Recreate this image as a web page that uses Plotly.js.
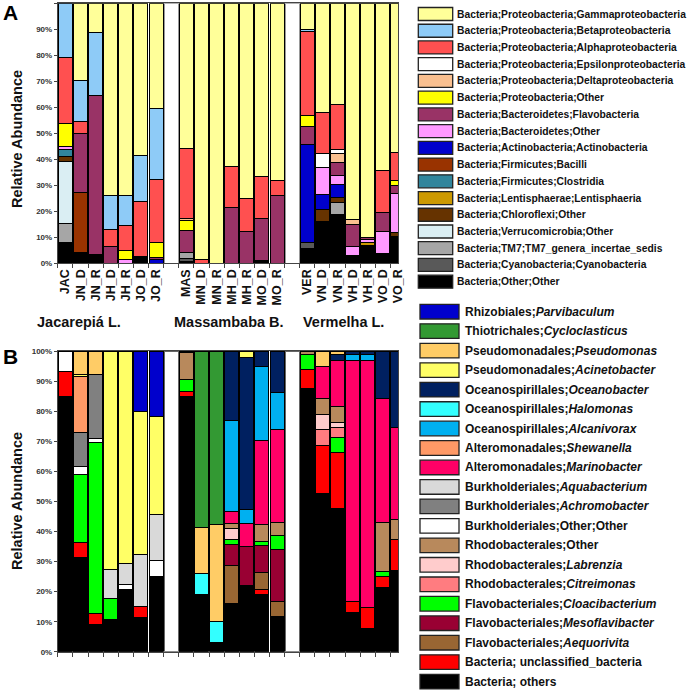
<!DOCTYPE html>
<html><head><meta charset="utf-8">
<script src="https://cdn.plot.ly/plotly-3.0.1.min.js"></script>
<style>html,body{margin:0;padding:0;background:#fff}#chart{width:691px;height:694px}</style>
</head><body><div id="chart"></div>
<script>
// ---------- samples ----------
const samples = ["JAC","JN_D","JN_R","JH_D","JH_R","JO_D","JO_R",
                 "MAS","MN_D","MN_R","MH_D","MH_R","MO_D","MO_R",
                 "VER","VN_D","VN_R","VH_D","VH_R","VO_D","VO_R"];
const groupLabels = ["Jacarepiá L.","Massambaba B.","Vermelha L."];
const gapHeight = 100;

// ---------- Panel A series (bottom -> top of stack) ----------
const aOther      = [8.1,4.2,3.2,0,0,2.8,0, 0.6,0,0,0,0,1.0,0, 5.8,16.0,18.6,2.9,6.8,3.6,10.2];
const aCyano      = [0,0,0,0,0,0,0, 1.3,0,0,0,0,0,0, 2.1,0,0,0,0,0,0];
const aTM7        = [7.3,0,0,0,0,0,0, 2.2,0,0,0,0,0,0, 0,0,4.9,0,0,0,0];
const aVerruco    = [23.7,0,0,0,0,0,0, 0,0,0,0,0,0,0, 0,0,0,0,0,0,0];
const aChloroflexi= [1.9,0,0,0,0,0,0, 0,0,0,0,0,0,0, 0,4.8,1.8,0,0,0,1.6];
const aLenti      = [0,0,0,0,0,0,0, 0,0,0,0,0,0,0, 0,0,0,0,1.3,0,0];
const aClostridia = [2.6,0,0,0,0,0,0, 0,0,0,0,0,0,0, 0,0,0,0,0,0,0];
const aBacilli    = [0,23.0,0,0,0,0,0, 0,0,0,0,0,0,0, 0,0,0,0,0,0,0];
const aActino     = [0,0,0,0,0,0,1.3, 0,0,0,0,0,0,0, 37.9,5.5,5.2,0,0,0,0];
const aBactOther  = [1.3,0,0,0,1.5,0,0, 0,0,0,0,0,0,0, 0,10.5,3.2,3.5,1.0,8.6,15.1];
const aFlavo      = [0,22.8,61.4,6.3,0,0,1.0, 8.5,0,0,21.3,12.3,16.1,26.2, 6.8,0,5.1,8.7,0.7,7.3,3.2];
const aProtOther  = [8.7,0,0,0,3.4,0,5.7, 3.8,0,0,0,0,0,0, 4.1,0,0,0,0,0,1.9];
const aDelta      = [0,0,0,0,0,0,0, 0.9,0,0,0,0,0,0, 0,0,3.5,1.6,0,0,0];
const aEpsilon    = [0,0,0,0,0,0,0, 0,0,0,0,0,0,0, 0,5.3,1.5,0,0,0,0];
const aAlpha      = [25.5,4.5,0,6.6,9.7,20.9,24.1, 26.9,1.3,0,16.1,12.6,16.1,5.8, 32.4,15.8,17.4,0,0,16.1,10.7];
const aBeta       = [20.9,16.0,24.1,13.0,11.3,17.6,27.3, 0,0,0,0,0,0,0, 0.9,0,0,0,0,0,0];
const aGamma      = [0,29.5,11.3,74.1,74.1,58.7,40.6, 55.8,98.7,100,62.6,75.1,66.8,68.0, 10.0,42.1,38.8,83.3,90.2,64.4,57.3];

const aNames = ["Bacteria;Other;Other","Bacteria;Cyanobacteria;Cyanobacteria","Bacteria;TM7;TM7_genera_incertae_sedis",
  "Bacteria;Verrucomicrobia;Other","Bacteria;Chloroflexi;Other","Bacteria;Lentisphaerae;Lentisphaeria",
  "Bacteria;Firmicutes;Clostridia","Bacteria;Firmicutes;Bacilli","Bacteria;Actinobacteria;Actinobacteria",
  "Bacteria;Bacteroidetes;Other","Bacteria;Bacteroidetes;Flavobacteria","Bacteria;Proteobacteria;Other",
  "Bacteria;Proteobacteria;Deltaproteobacteria","Bacteria;Proteobacteria;Epsilonproteobacteria",
  "Bacteria;Proteobacteria;Alphaproteobacteria","Bacteria;Proteobacteria;Betaproteobacteria",
  "Bacteria;Proteobacteria;Gammaproteobacteria"];
const aColors = ["#000000","#595959","#a6a6a6","#daeef3","#663300","#cc9900","#31859c","#993300","#0000cc",
  "#ff99ff","#993366","#ffff00","#fac090","#ffffff","#ff5050","#8ecbf7","#ffff99"];
const aValues = [aOther,aCyano,aTM7,aVerruco,aChloroflexi,aLenti,aClostridia,aBacilli,aActino,
  aBactOther,aFlavo,aProtOther,aDelta,aEpsilon,aAlpha,aBeta,aGamma];

// ---------- Panel B series (bottom -> top of stack) ----------
const bOthers   = [84.8,31.3,9.2,10.8,20.8,11.4,25.0, 84.8,18.9,3.0,15.9,22.2,18.9,11.9, 87.6,52.5,47.5,13.0,7.8,21.3,27.0];
const bUnclass  = [8.3,5.1,3.6,0,0,3.6,0, 1.7,0,0,0,0,1.9,0, 6.1,16.0,18.8,3.7,7.0,3.7,10.2];
const bAequo    = [0,0,0,0,0,0,0, 0,0,0,12.7,0,5.6,4.8, 0,0,0,0,0,0,0];
const bMeso     = [0,0,0,0,0,0,0, 0,0,0,7.1,12.8,8.8,17.2, 0,0,0,0,0,0,0];
const bCloaci   = [0,22.7,56.7,7.0,0,0,0, 3.9,0,0,1.7,0,1.6,4.6, 5.0,0,5.0,0,0,1.6,0];
const bCitrei   = [0,0,0,0,0,0,0, 0,0,0,0,0,0,0, 0,5.5,3.3,0,0,0,0];
const bLabrenzia= [0,0,0,0,0,0,0, 0,0,0,3.6,0,0,0, 0,5.0,1.6,0,0,0,0];
const bRhodoOth = [0,0,0,0,0,0,0, 9.1,0,0,1.7,0,5.4,4.4, 1.3,5.2,5.3,0,0,16.3,6.8];
const bBurkOth  = [6.9,2.4,1.5,0,1.5,0,5.5, 0,0,0,0,0,0,0, 0,0,0,0,0,0,0];
const bAchromo  = [0,11.4,21.2,0,0,0,0, 0,0,0,0,0,0,0, 0,0,0,0,0,0,0];
const bAqua     = [0,0,0,9.6,7.1,17.5,15.2, 0,0,0,0,0,0,0, 0,0,0,0,0,0,0];
const bMarino   = [0,0,0,0,0,0,0, 0.5,0,0,3.9,7.7,28.2,31.1, 0,10.8,15.3,80.3,82.2,41.3,30.6];
const bShewan   = [0,18.6,0,0,0,0,0, 0,0,0,0,0,0,0, 0,0,0,0,0,0,0];
const bAlcani   = [0,0,0,0,0,0,0, 0,0,0,30.2,4.7,24.4,12.2, 0,0,0,1.7,1.7,0,0];
const bHalo     = [0,0,0,0,0,0,0, 0,7.0,7.0,0,0,0,0, 0,0,0,0,0,0,0];
const bOceano   = [0,0,0,0,0,0,0, 0,0,0,23.2,50.5,5.2,13.8, 0,0,1.9,1.3,1.3,15.8,25.4];
const bAcinet   = [0,0.8,0,72.6,70.6,47.3,32.5, 0,0,0,0,2.1,0,0, 0,0,0,0,0,0,0];
const bPseudo   = [0,7.7,7.8,0,0,0,0, 0,15.5,32.4,0,0,0,0, 0,5.0,1.3,0,0,0,0];
const bCyclo    = [0,0,0,0,0,0,0, 0,58.6,57.6,0,0,0,0, 0,0,0,0,0,0,0];
const bParvi    = [0,0,0,0,0,20.2,21.8, 0,0,0,0,0,0,0, 0,0,0,0,0,0,0];

const bNames = ["Bacteria; others","Bacteria; unclassified_bacteria","Flavobacteriales;<i>Aequorivita</i>",
  "Flavobacteriales;<i>Mesoflavibacter</i>","Flavobacteriales;<i>Cloacibacterium</i>","Rhodobacterales;<i>Citreimonas</i>",
  "Rhodobacterales;<i>Labrenzia</i>","Rhodobacterales;Other","Burkholderiales;Other;Other",
  "Burkholderiales;<i>Achromobacter</i>","Burkholderiales;<i>Aquabacterium</i>","Alteromonadales;<i>Marinobacter</i>",
  "Alteromonadales;<i>Shewanella</i>","Oceanospirillales;<i>Alcanivorax</i>","Oceanospirillales;<i>Halomonas</i>",
  "Oceanospirillales;<i>Oceanobacter</i>","Pseudomonadales;<i>Acinetobacter</i>","Pseudomonadales;<i>Pseudomonas</i>",
  "Thiotrichales;<i>Cycloclasticus</i>","Rhizobiales;<i>Parvibaculum</i>"];
const bColors = ["#000000","#ff0000","#996633","#990033","#00ff00","#ff7c80","#ffcccc","#b8895c","#ffffff",
  "#808080","#d9d9d9","#ff0066","#ff9966","#00b0f0","#33ffff","#002060","#ffff66","#ffcc66","#339933","#0000cc"];
const bValues = [bOthers,bUnclass,bAequo,bMeso,bCloaci,bCitrei,bLabrenzia,bRhodoOth,bBurkOth,bAchromo,bAqua,
  bMarino,bShewan,bAlcani,bHalo,bOceano,bAcinet,bPseudo,bCyclo,bParvi];

// ---------- build categories with blank separator slots ----------
const gapAfter = [6, 13];
const cats = [];
samples.forEach((s,i)=>{ cats.push(s); if(i===6) cats.push(" "); if(i===13) cats.push("  "); });
function expand(vals){
  const out=[];
  vals.forEach((v,i)=>{ out.push(v===0?null:v); if(gapAfter.includes(i)) out.push(null); });
  return out;
}
const gapVals = cats.map(c => c.trim()==="" ? gapHeight : null);

const FONT = "Liberation Sans, Arial, sans-serif";
const traces = [];
aValues.forEach((vals,k)=>{
  traces.push({type:"bar", x:cats, y:expand(vals), name:aNames[k], xaxis:"x", yaxis:"y",
    marker:{color:aColors[k], line:{color:"#000", width:1}}, hoverinfo:"name+y"});
});
traces.push({type:"bar", x:cats, y:gapVals, xaxis:"x", yaxis:"y", showlegend:false,
  marker:{color:"#fff", line:{color:"#999", width:1}}, hoverinfo:"skip"});
bValues.forEach((vals,k)=>{
  traces.push({type:"bar", x:cats, y:expand(vals), name:bNames[k], xaxis:"x2", yaxis:"y2",
    marker:{color:bColors[k], line:{color:"#000", width:1}}, hoverinfo:"name+y"});
});
traces.push({type:"bar", x:cats, y:gapVals, xaxis:"x2", yaxis:"y2", showlegend:false,
  marker:{color:"#fff", line:{color:"#666", width:1}}, hoverinfo:"skip"});

// ---------- layout helpers ----------
const W=691, H=694;
const px = v => v/W, py = v => 1 - v/H;
const xDom = [px(57.8), px(398)];
const pct = [0,10,20,30,40,50,60,70,80,90,100];
const pctText = pct.map(v=>v+"%");

function xax(extra){ return Object.assign({type:"category", categoryorder:"array", categoryarray:cats,
  domain:xDom, range:[-0.5,22], showgrid:false, showline:true, linecolor:"#444", linewidth:1, mirror:true,
  ticks:"outside", tickson:"boundaries", ticklen:4, tickcolor:"#444", tickangle:-90,
  tickfont:{family:FONT, size:12.5, color:"#111", weight:"bold"}, fixedrange:true}, extra); }
function yax(dom, anchor){ return {domain:dom, range:[0,100], anchor:anchor, tickvals:pct, ticktext:pctText,
  showgrid:false, showline:true, linecolor:"#444", linewidth:1, mirror:true, ticks:"outside", ticklen:3,
  tickcolor:"#444", tickfont:{family:FONT, size:8, color:"#333", weight:"bold"}, zeroline:false, fixedrange:true}; }

const shapes = [], annotations = [];
// Legend A
aNames.slice().reverse().forEach((n,i)=>{
  const k = aNames.length-1-i;
  const cy = 14 + i*16.73;
  shapes.push({type:"rect", xref:"paper", yref:"paper", x0:px(418.3), x1:px(452.7), y0:py(cy+6.5), y1:py(cy-6.5),
    fillcolor:aColors[k], line:{color:"#222", width:1.3}});
  annotations.push({xref:"paper", yref:"paper", x:px(455), y:py(cy), xanchor:"left", yanchor:"middle",
    showarrow:false, text:n, font:{family:FONT, size:10.3, color:"#111", weight:"bold"}});
});
// Legend B
bNames.slice().reverse().forEach((n,i)=>{
  const k = bNames.length-1-i;
  const cy = 311.7 + i*19.47;
  shapes.push({type:"rect", xref:"paper", yref:"paper", x0:px(420), x1:px(459), y0:py(cy+7.3), y1:py(cy-7.3),
    fillcolor:bColors[k], line:{color:"#222", width:1.3}});
  annotations.push({xref:"paper", yref:"paper", x:px(462.5), y:py(cy), xanchor:"left", yanchor:"middle",
    showarrow:false, text:n, font:{family:FONT, size:12, color:"#111", weight:"bold"}});
});
// Panel letters and axis titles
annotations.push({xref:"paper", yref:"paper", x:px(10), y:py(13), xanchor:"center", yanchor:"middle", showarrow:false,
  text:"A", font:{family:FONT, size:21, color:"#000", weight:"bold"}});
annotations.push({xref:"paper", yref:"paper", x:px(10), y:py(356), xanchor:"center", yanchor:"middle", showarrow:false,
  text:"B", font:{family:FONT, size:21, color:"#000", weight:"bold"}});
[139, 501].forEach(cy=>annotations.push({xref:"paper", yref:"paper", x:px(17), y:py(cy), xanchor:"center",
  yanchor:"middle", showarrow:false, textangle:-90, text:"Relative Abundance",
  font:{family:FONT, size:14.5, color:"#111", weight:"bold"}}));
// Group labels
const groupX = [79, 229, 343];
groupLabels.forEach((g,i)=>annotations.push({xref:"paper", yref:"paper", x:px(groupX[i]), y:py(322),
  xanchor:"center", yanchor:"middle", showarrow:false, text:g, font:{family:FONT, size:14.5, color:"#111", weight:"bold"}}));

const layout = {
  width:W, height:H, margin:{l:0,r:0,t:0,b:0}, paper_bgcolor:"#fff", plot_bgcolor:"#fff",
  barmode:"stack", bargap:0.07, showlegend:false,
  xaxis: xax({anchor:"y"}),
  yaxis: yax([py(263.3), py(3.3)], "x"),
  xaxis2: xax({anchor:"y2", showticklabels:false}),
  yaxis2: yax([py(651.8), py(351)], "x2"),
  shapes: shapes, annotations: annotations
};
Plotly.newPlot("chart", traces, layout, {displayModeBar:false, staticPlot:true});
</script></body></html>
